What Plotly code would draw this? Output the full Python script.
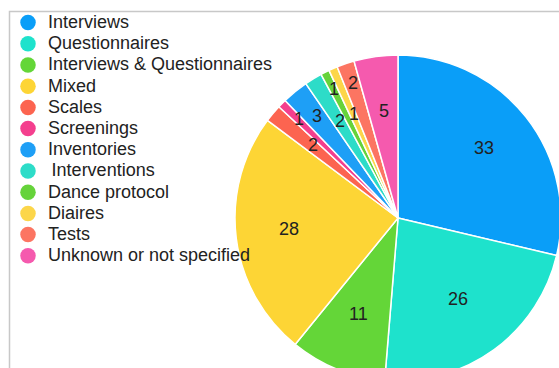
import math
import plotly.graph_objects as go

# Study data: method categories and number of studies per category
categories = [
    "Interviews",
    "Questionnaires",
    "Interviews & Questionnaires",
    "Mixed",
    "Scales",
    "Screenings",
    "Inventories",
    "\u2009Interventions",
    "Dance protocol",
    "Diaires",
    "Tests",
    "Unknown or not specified",
]
counts = [33, 26, 11, 28, 2, 1, 3, 2, 1, 1, 2, 5]

colors = [
    "#0a9ef8", "#1ee2cc", "#64d638", "#fdd535", "#fc6450", "#f43f8e",
    "#1e9ff6", "#2ddcc8", "#66d33a", "#fcd64a", "#fc7562", "#f55aae",
]
# fraction of the radius at which each value label sits
label_radius = [0.675, 0.63, 0.645, 0.675, 0.68, 0.85, 0.79, 0.68, 0.87, 0.68, 0.86, 0.65]

W, H = 580, 400           # figure size in px (page is clipped to the window)
CX, CY, R = 398, 218, 163  # pie centre and radius in px

fig = go.Figure()
fig.add_trace(go.Pie(
    labels=categories,
    values=counts,
    sort=False,
    direction="clockwise",
    rotation=0,
    marker=dict(colors=colors, line=dict(color="white", width=1.5)),
    textinfo="none",
    showlegend=False,
    domain=dict(x=[(CX - R) / W, (CX + R) / W], y=[1 - (CY + R) / H, 1 - (CY - R) / H]),
    hoverinfo="label+value",
))

# legend entries drawn as round markers
for name, color in zip(categories, colors):
    fig.add_trace(go.Scatter(
        x=[None], y=[None], mode="markers",
        name=f"<span style='font-size:18px'>{name}</span>",
        marker=dict(color=color, size=15.5, symbol="circle"),
    ))

# value labels placed at each slice's mid-angle
total = sum(counts)
cum = 0
for v, rf in zip(counts, label_radius):
    mid = (cum + v / 2) / total * 2 * math.pi
    cum += v
    px = CX + rf * R * math.sin(mid)
    py = CY - rf * R * math.cos(mid)
    fig.add_annotation(
        x=px / W, y=1 - py / H, xref="paper", yref="paper",
        xanchor="center", yanchor="middle", yshift=2,
        text=str(v), showarrow=False,
        font=dict(size=18, color="#222222"),
    )

# thin frame around the panel
fig.add_shape(
    type="rect", xref="paper", yref="paper",
    x0=9.5 / W, y0=1 - 11.5 / H, x1=1.5, y1=-0.5,
    line=dict(color="#c8c8c8", width=1.5), layer="below",
)

fig.update_layout(
    width=W, height=H,
    margin=dict(l=0, r=0, t=0, b=0),
    paper_bgcolor="white", plot_bgcolor="white",
    font=dict(family="Liberation Sans, Arial, sans-serif", color="#222222"),
    xaxis=dict(visible=False), yaxis=dict(visible=False),
    legend=dict(
        x=8 / W, y=1 - 7 / H, xanchor="left", yanchor="top",
        bgcolor="rgba(0,0,0,0)", font=dict(size=14, color="#222222"),
        itemclick=False, itemdoubleclick=False,
    ),
    showlegend=True,
)

fig.write_html(
    "out.html",
    config={"displayModeBar": False},
    post_script=(
        "document.body.style.margin='0';"
        "document.body.style.overflow='hidden';"
        "document.documentElement.style.overflow='hidden';"
    ),
)
